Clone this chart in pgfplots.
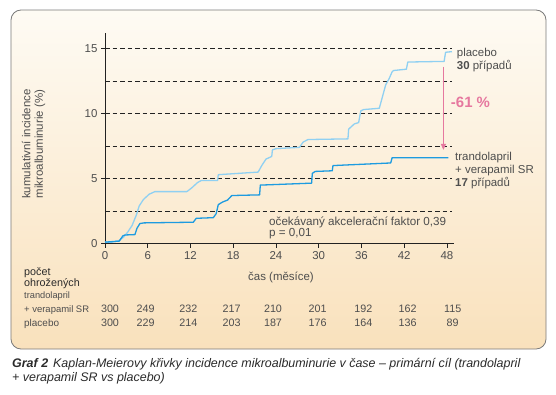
\documentclass[border=0pt]{standalone}
\usepackage{pgfplots}
\pgfplotsset{compat=1.18}
\usepackage{fontspec}
\setmainfont{Liberation Sans}
\usetikzlibrary{arrows.meta}
\definecolor{txt}{HTML}{4E4E4E}
\definecolor{dark}{HTML}{2A2A2A}
\definecolor{axc}{HTML}{222222}
\definecolor{bgtop}{HTML}{FEFBF4}
\definecolor{bgbot}{HTML}{F9E1BC}
\definecolor{framec}{HTML}{7A7A7A}
\definecolor{plac}{HTML}{8FD0F2}
\definecolor{trt}{HTML}{1D9BE0}
\definecolor{pinkc}{HTML}{E6789F}
\newcommand{\fs}[1]{\fontsize{#1}{#1}\selectfont}
\begin{document}
\begin{tikzpicture}[x=1bp,y=1bp]
\useasboundingbox (-105,-150.3) rectangle (451,243.7);
\shade[top color=bgtop, bottom color=bgbot, rounded corners=10bp] (-94,-105.3) rectangle (441,233.7);
\draw[framec, line width=0.8bp, rounded corners=10bp] (-94,-105.3) rectangle (441,233.7);
\begin{axis}[
  at={(0,0)}, anchor=south west,
  scale only axis, width=349.1bp, height=210.7bp,
  xmin=0, xmax=49, ymin=0, ymax=16.18,
  axis lines*=left,
  axis line style={line width=0.8bp, color=axc},
  xtick={0,6,...,48}, ytick={0,5,10,15},
  tick align=outside, major tick length=4bp,
  tick style={line width=0.8bp, color=axc},
  tick label style={font=\fs{11.5}, text=txt},
  /pgf/number format/assume math mode=true,
  clip=false,
]
\draw[axc, line width=0.7bp, dash pattern=on 4.5bp off 3bp] (axis cs:0,2.5) -- (axis cs:48.65,2.5);
\draw[axc, line width=0.7bp, dash pattern=on 4.5bp off 3bp] (axis cs:0,5) -- (axis cs:48.65,5);
\draw[axc, line width=0.7bp, dash pattern=on 4.5bp off 3bp] (axis cs:0,7.5) -- (axis cs:48.65,7.5);
\draw[axc, line width=0.7bp, dash pattern=on 4.5bp off 3bp] (axis cs:0,10) -- (axis cs:48.65,10);
\draw[axc, line width=0.7bp, dash pattern=on 4.5bp off 3bp] (axis cs:0,12.5) -- (axis cs:48.65,12.5);
\draw[axc, line width=0.7bp, dash pattern=on 4.5bp off 3bp] (axis cs:0,15) -- (axis cs:48.65,15);
% placebo
\addplot[color=plac, line width=1.3bp, line join=round] coordinates {
(0,0.12) (1,0.12) (2,0.25) (2.6,0.5) (3.2,0.9) (3.8,1.4) (4.4,2.2) (4.8,2.9) (5.4,3.4) (6.2,3.8) (7,4.0)
(11.5,4.0) (12.2,4.3) (13.0,4.7) (13.5,4.85) (15.8,4.85) (15.9,5.3) (21.5,5.5) (22.0,6.0) (22.6,6.5)
(23.4,6.7) (23.5,7.2) (24,7.3) (27.3,7.4) (27.8,7.8) (28.5,8.0) (34.1,8.05) (34.2,8.8) (35.0,9.2)
(35.6,9.3) (35.9,10.2) (36.3,10.3) (38.5,10.4) (38.9,11.2) (39.4,12.2) (39.9,12.7) (40.3,13.2)
(40.5,13.3) (42.3,13.4) (42.5,13.95) (47.6,14.0) (47.8,14.7) (48.7,14.75)};
% trandolapril + verapamil SR
\addplot[color=trt, line width=1.3bp, line join=round] coordinates {
(0,0.12) (2.0,0.2) (2.5,0.6) (2.8,0.67) (4.2,0.7) (4.5,1.2) (4.9,1.55) (5.5,1.6) (12.4,1.65)
(12.8,1.95) (15.2,2.0) (15.6,2.3) (15.9,3.0) (16.5,3.2) (17.2,3.35) (17.8,3.7) (21.7,3.75)
(21.8,4.5) (29.0,4.65) (29.1,5.4) (29.5,5.55) (31.9,5.6) (32.0,6.0) (40.1,6.2) (40.3,6.6) (48.2,6.6)};
\draw[pinkc, line width=0.9bp, -{Triangle[length=6bp,width=5bp]}] (axis cs:47.5,13.6) -- (axis cs:47.5,7.2);
\end{axis}
% y label
\node[rotate=90, align=center, text=txt, font=\fs{11.5}, inner sep=0pt] at (-71.5,99.7)
  {kumulativní incidence\\[1bp]mikroalbuminurie (\%)};
% x label
\node[text=txt, font=\fs{11.5}, inner sep=0pt] at (176,-33.3) {čas (měsíce)};
% annotations
\node[anchor=base west, text=txt, font=\fs{11.7}, inner sep=0pt] at (164,18.7) {očekávaný akcelerační faktor 0,39};
\node[anchor=base west, text=txt, font=\fs{11.7}, inner sep=0pt] at (164,7.2) {p = 0,01};
\node[anchor=base west, text=txt, font=\fs{11.5}, inner sep=0pt] at (351.7,187.2) {placebo};
\node[anchor=base west, text=txt, font=\fs{11.5}, inner sep=0pt] at (351.7,174.2) {\textbf{30} případů};
\node[anchor=base west, text=txt, font=\fs{11.5}, inner sep=0pt] at (350,83.2) {trandolapril};
\node[anchor=base west, text=txt, font=\fs{11.5}, inner sep=0pt] at (350,70.7) {+ verapamil SR};
\node[anchor=base west, text=txt, font=\fs{11.5}, inner sep=0pt] at (350,57.2) {\textbf{17} případů};
\node[text=pinkc, font=\bfseries\fs{15}, inner sep=0pt] at (365.5,141.7) {-61 \%};
% at-risk table
\node[anchor=base west, text=dark, font=\fs{10.8}, inner sep=0pt] at (-81,-31.6) {počet};
\node[anchor=base west, text=dark, font=\fs{10.8}, inner sep=0pt] at (-81,-42.6) {ohrožených};
\node[anchor=base west, text=txt, font=\fs{9.3}, inner sep=0pt] at (-81,-55) {trandolapril};
\node[anchor=base west, text=txt, font=\fs{9.5}, inner sep=0pt] at (-81,-69) {+ verapamil SR};
\node[anchor=base west, text=txt, font=\fs{10}, inner sep=0pt] at (-81,-83) {placebo};
\foreach \xx/\a/\b in {5/300/300, 40.7/249/229, 83.3/232/214, 126.7/217/203, 168/210/187, 212.7/201/176, 258.3/192/164, 302.7/162/136, 347.7/115/89}{
  \node[anchor=base, text=txt, font=\fs{10.8}, inner sep=0pt] at (\xx,-69) {\a};
  \node[anchor=base, text=txt, font=\fs{10.8}, inner sep=0pt] at (\xx,-83) {\b};
}
% caption
\node[anchor=base west, text=dark, font=\itshape\fs{12.5}, inner sep=0pt] at (-93,-123.3)
  {\textbf{Graf 2}\hspace{0.4em}Kaplan-Meierovy křivky incidence mikroalbuminurie v čase – primární cíl (trandolapril};
\node[anchor=base west, text=dark, font=\itshape\fs{12.5}, inner sep=0pt] at (-93,-137.3)
  {+ verapamil SR vs placebo)};
\end{tikzpicture}
\end{document}
